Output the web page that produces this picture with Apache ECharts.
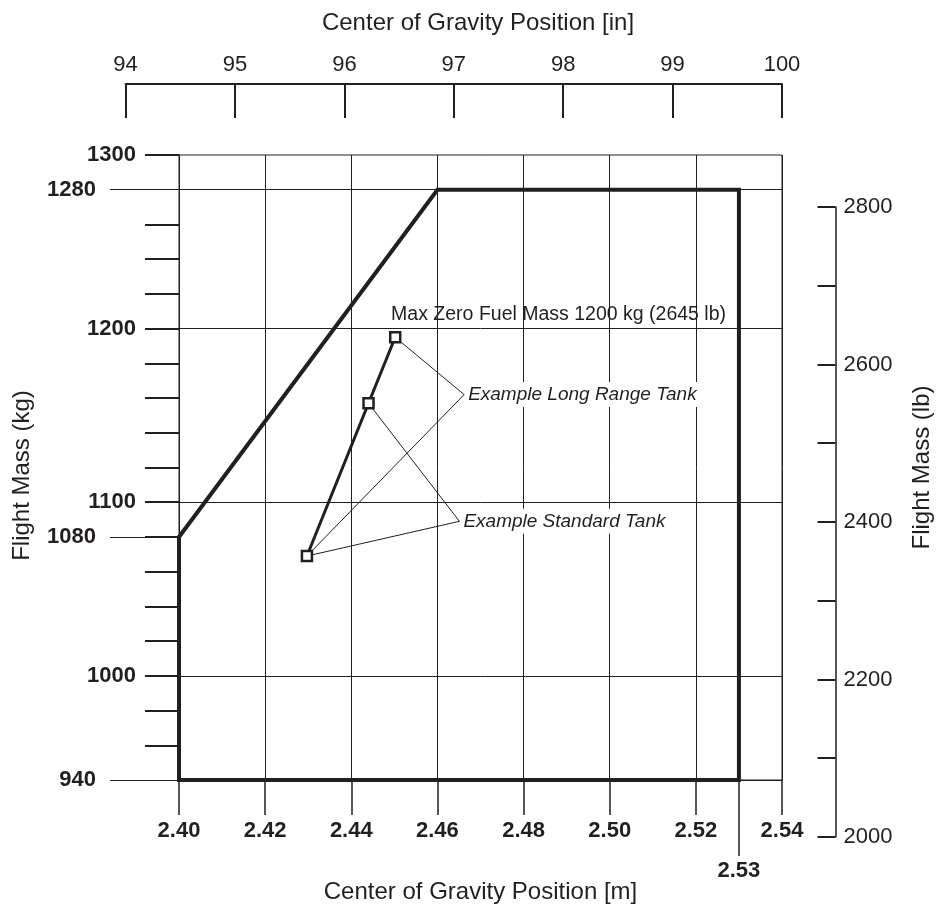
<!DOCTYPE html>
<html>
<head>
<meta charset="utf-8">
<script src="https://cdn.jsdelivr.net/npm/echarts@6/dist/echarts.min.js"></script>
<style>
  html, body { margin: 0; padding: 0; background: #ffffff; }
  #chart { width: 936px; height: 910px; }
</style>
</head>
<body>
<div id="chart"></div>
<script>
// Weight & balance envelope: CG position [m] against flight mass [kg]
const envelopeCg   = [2.40, 2.40, 2.46, 2.53, 2.53, 2.40];
const envelopeMass = [940, 1080, 1280, 1280, 940, 940];

// Loading example: zero-fuel point, standard tank full, long range tank full
const exampleCg   = [2.4297, 2.4440, 2.4502];
const exampleMass = [1069, 1157, 1195];

// Callouts: text, anchor point and the example points they refer to
const calloutText    = ['Example Long Range Tank', 'Example Standard Tank'];
const calloutCg      = [2.4662, 2.4651];
const calloutMass    = [1162, 1089];
const calloutTargets = [[0, 2], [0, 1]];

// Max zero fuel mass line
const maxZeroFuelMass   = 1200;
const maxZeroFuelText   = 'Max Zero Fuel Mass 1200 kg (2645 lb)';
const maxZeroFuelTextCg = 2.527;

// Horizontal reference lines inside the envelope frame
const massRefLines = [1000, 1100, 1200, 1280];

// Axis ranges and tick labels
const cgMin = 2.40, cgMax = 2.54, cgStep = 0.02;
const cgExtraTicks = [2.53];
const massMin = 940, massMax = 1300, massStep = 20;
const massLabelsNear = [1000, 1100, 1200, 1300];
const massLabelsFar  = [940, 1080, 1280];
const inchMin = 94, inchMax = 100, inchStep = 1;
const lbMin = 2000, lbMax = 2800, lbStep = 100;
const lbLabels = [2000, 2200, 2400, 2600, 2800];

const M_PER_IN = 0.0254;
const LB_PER_KG = 2.20462;

// Plot frame in pixels
const INK = '#231f20';
const FONT = '"Liberation Sans", Arial, Helvetica, sans-serif';
const PLOT = { left: 179, right: 782, top: 155, bottom: 780 };
const plotW = PLOT.right - PLOT.left;
const plotH = PLOT.bottom - PLOT.top;

const xPix = m => PLOT.left + (m - cgMin) / (cgMax - cgMin) * plotW;
const yPix = kg => PLOT.top + (massMax - kg) / (massMax - massMin) * plotH;

// Inch scale shares the metre scale; pound scale shares the kilogram scale
const inchLeft = xPix(inchMin * M_PER_IN);
const inchRight = xPix(inchMax * M_PER_IN);
const lbTop = yPix(lbMax / LB_PER_KG);
const lbBottom = yPix(lbMin / LB_PER_KG);

// Thick minor ticks on the kg axis (every 20 kg, long thin ones drawn separately)
const massThickTicks = [];
for (let v = massMin + massStep; v <= massMax; v += massStep) {
  if (v !== 1280) massThickTicks.push(v);
}

const pt = (x, y) => [x, y];
const envelopeData = envelopeCg.map((x, i) => pt(x, envelopeMass[i]));
const exampleData = exampleCg.map((x, i) => pt(x, exampleMass[i]));

const leaderSeries = calloutText.map((t, i) => ({
  type: 'line',
  xAxisIndex: 0, yAxisIndex: 0,
  data: [exampleData[calloutTargets[i][0]], pt(calloutCg[i], calloutMass[i]), exampleData[calloutTargets[i][1]]],
  symbol: 'none',
  lineStyle: { color: INK, width: 1 },
  silent: true,
  z: 4
}));

const labelFont = { fontFamily: FONT, color: INK };
const plain = v => String(Math.round(v));
const metres = v => v.toFixed(2);

const chart = echarts.init(document.getElementById('chart'), null, { renderer: 'canvas' });

chart.setOption({
  animation: false,
  backgroundColor: '#ffffff',
  title: {
    text: 'Center of Gravity Position [in]',
    left: 473,
    top: 6,
    textAlign: 'center',
    textStyle: { fontFamily: FONT, fontSize: 24, fontWeight: 'normal', color: INK }
  },
  grid: [
    { left: PLOT.left, top: PLOT.top, width: plotW, height: plotH, show: true,
      borderColor: INK, borderWidth: 1, backgroundColor: 'transparent',
      containLabel: false, outerBoundsMode: 'none' },
    { left: inchLeft, top: 84, width: inchRight - inchLeft, height: 34,
      containLabel: false, outerBoundsMode: 'none' },
    { left: 800, top: lbTop, width: 835.5 - 800, height: lbBottom - lbTop,
      containLabel: false, outerBoundsMode: 'none' }
  ],
  xAxis: [
    {
      gridIndex: 0, type: 'value', min: cgMin, max: cgMax, interval: cgStep, position: 'bottom',
      axisLine: { show: true, onZero: false, lineStyle: { color: INK, width: 1 } },
      axisTick: { show: true, length: 35, lineStyle: { color: INK, width: 1.5 } },
      axisLabel: { ...labelFont, fontSize: 22, fontWeight: 'bold', margin: 40, formatter: metres },
      splitLine: { show: true, lineStyle: { color: INK, width: 1 } },
      name: 'Center of Gravity Position [m]', nameLocation: 'middle', nameGap: 100,
      nameTextStyle: { ...labelFont, fontSize: 24 }
    },
    {
      gridIndex: 0, type: 'value', min: cgMin, max: cgMax, position: 'bottom',
      axisLine: { show: false, onZero: false },
      axisTick: { show: true, customValues: cgExtraTicks, length: 76, lineStyle: { color: INK, width: 1.5 } },
      axisLabel: { ...labelFont, customValues: cgExtraTicks, fontSize: 22, fontWeight: 'bold', margin: 80,
        formatter: metres },
      splitLine: { show: false }
    },
    {
      gridIndex: 1, type: 'value', min: inchMin, max: inchMax, interval: inchStep, position: 'top',
      axisLine: { show: true, onZero: false, lineStyle: { color: INK, width: 2 } },
      axisTick: { show: true, inside: true, length: 34, lineStyle: { color: INK, width: 2 } },
      axisLabel: { ...labelFont, fontSize: 22, margin: 8, formatter: plain },
      splitLine: { show: false }
    },
    { gridIndex: 2, type: 'value', min: 0, max: 1, show: false }
  ],
  yAxis: [
    {
      gridIndex: 0, type: 'value', min: massMin, max: massMax, interval: massStep, position: 'left',
      axisLine: { show: true, onZero: false, lineStyle: { color: INK, width: 1 } },
      axisTick: { show: true, customValues: massThickTicks, length: 34, lineStyle: { color: INK, width: 2 } },
      axisLabel: { ...labelFont, customValues: massLabelsNear, fontSize: 22, fontWeight: 'bold', margin: 43,
        formatter: plain },
      splitLine: { show: false },
      name: 'Flight Mass (kg)', nameLocation: 'middle', nameGap: 145,
      nameTextStyle: { ...labelFont, fontSize: 24, padding: [0, 16, 0, 0] }
    },
    {
      gridIndex: 0, type: 'value', min: massMin, max: massMax, position: 'left',
      axisLine: { show: false, onZero: false },
      axisTick: { show: true, customValues: massLabelsFar, length: 69, lineStyle: { color: INK, width: 1 } },
      axisLabel: { ...labelFont, customValues: massLabelsFar, fontSize: 22, fontWeight: 'bold', margin: 83,
        formatter: plain },
      splitLine: { show: false }
    },
    {
      gridIndex: 0, type: 'value', min: massMin, max: massMax, position: 'right', offset: 53,
      axisLine: { show: false, onZero: false }, axisTick: { show: false }, axisLabel: { show: false },
      splitLine: { show: false },
      name: 'Flight Mass (lb)', nameLocation: 'middle', nameGap: 75,
      nameTextStyle: { ...labelFont, fontSize: 24 }
    },
    { gridIndex: 1, type: 'value', min: 0, max: 1, show: false },
    {
      gridIndex: 2, type: 'value', min: lbMin, max: lbMax, interval: lbStep, position: 'right',
      axisLine: { show: true, onZero: false, lineStyle: { color: INK, width: 1.5 } },
      axisTick: { show: true, inside: true, length: 18, lineStyle: { color: INK, width: 2 } },
      axisLabel: { ...labelFont, customValues: lbLabels, fontSize: 22, margin: 8, formatter: plain },
      splitLine: { show: false }
    }
  ],
  series: [
    {
      name: 'reference lines',
      type: 'line', xAxisIndex: 0, yAxisIndex: 0, data: [],
      silent: true, z: 2,
      markLine: {
        silent: true, symbol: ['none', 'none'], animation: false,
        label: { show: false },
        lineStyle: { color: INK, width: 1, type: 'solid' },
        data: massRefLines.map(v => ({ yAxis: v }))
      }
    },
    {
      name: 'envelope',
      type: 'line', xAxisIndex: 0, yAxisIndex: 0,
      data: envelopeData, symbol: 'none',
      lineStyle: { color: INK, width: 4, join: 'miter', cap: 'square' },
      silent: true, z: 5
    },
    ...leaderSeries,
    {
      name: 'callouts',
      type: 'scatter', xAxisIndex: 0, yAxisIndex: 0,
      data: calloutText.map((t, i) => ({
        value: pt(calloutCg[i], calloutMass[i]),
        label: { formatter: t }
      })),
      symbolSize: 0,
      itemStyle: { opacity: 1 },
      label: {
        show: true, position: 'right', distance: 2,
        ...labelFont, fontSize: 19, fontStyle: 'italic',
        backgroundColor: '#ffffff', padding: [3, 2, 3, 2]
      },
      silent: true, z: 6
    },
    {
      name: 'max zero fuel',
      type: 'scatter', xAxisIndex: 0, yAxisIndex: 0,
      data: [{ value: pt(maxZeroFuelTextCg, maxZeroFuelMass), label: { formatter: maxZeroFuelText } }],
      symbolSize: 0,
      itemStyle: { opacity: 1 },
      label: { show: true, position: 'top', align: 'right', distance: 4, ...labelFont, fontSize: 19.5 },
      silent: true, z: 6
    },
    {
      name: 'loading example',
      type: 'line', xAxisIndex: 0, yAxisIndex: 0,
      data: exampleData,
      symbol: 'rect', symbolSize: 10, showSymbol: true,
      itemStyle: { color: '#ffffff', borderColor: INK, borderWidth: 2.5 },
      lineStyle: { color: INK, width: 3 },
      silent: true, z: 7
    }
  ]
});
</script>
</body>
</html>
